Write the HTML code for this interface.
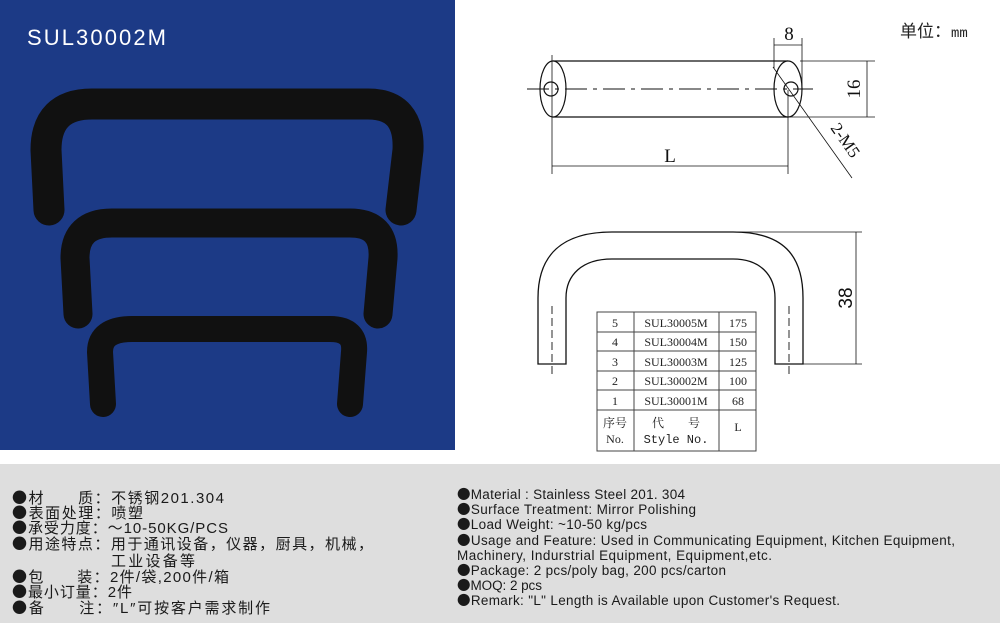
<!DOCTYPE html>
<html><head><meta charset="utf-8"><style>
html,body{margin:0;padding:0;background:#fff;}
svg{display:block}
</style></head><body>
<svg width="1000" height="623" viewBox="0 0 1000 623" xmlns="http://www.w3.org/2000/svg">
<rect x="0" y="0" width="1000" height="623" fill="#fff"/>
<rect x="0" y="0" width="455" height="450" fill="#1c3a86"/>
<rect x="0" y="464" width="1000" height="159" fill="#dedede"/>
<text x="27" y="45" font-family="Liberation Sans, sans-serif" font-size="22" fill="#fff" textLength="139">SUL30002M</text>
<g fill="none" stroke="#111" stroke-linejoin="round" stroke-linecap="round">
<path d="M49 210 L46 150 Q46 104 92 104 L368 104 Q410 104 408 150 L401 210" stroke-width="31"/>
<path d="M78 314 L75 258 Q75 223 112 223 L350 223 Q385 223 383 258 L378 314" stroke-width="29"/>
<path d="M103 404 L100 352 Q100 329 132 329 L330 329 Q356 329 354 352 L350 404" stroke-width="26"/>
</g>
<g fill="none" stroke="#111" stroke-width="1.2">
<line x1="553" y1="61" x2="788" y2="61"/>
<line x1="553" y1="117" x2="788" y2="117"/>
<ellipse cx="553" cy="89" rx="13" ry="28" fill="#fff"/>
<ellipse cx="788" cy="89" rx="14" ry="28" fill="#fff"/>
<circle cx="551" cy="89" r="7"/>
<circle cx="791" cy="89" r="7"/>
<line x1="527" y1="89" x2="813" y2="89" stroke-dasharray="22,6,4,6" stroke-width="1"/>
<line x1="552" y1="55" x2="552" y2="174" stroke-width="0.8"/>
<line x1="788" y1="90" x2="788" y2="174" stroke-width="0.8"/>
<line x1="552" y1="166" x2="788" y2="166" stroke-width="0.8"/>
<line x1="774" y1="38" x2="774" y2="68" stroke-width="0.8"/>
<line x1="802" y1="38" x2="802" y2="90" stroke-width="0.8"/>
<line x1="774" y1="45" x2="802" y2="45" stroke-width="0.8"/>
<line x1="800" y1="61" x2="875" y2="61" stroke-width="0.8"/>
<line x1="790" y1="117" x2="875" y2="117" stroke-width="0.8"/>
<line x1="867" y1="61" x2="867" y2="117" stroke-width="0.8"/>
<line x1="773" y1="67" x2="852" y2="178" stroke-width="0.8"/>
</g>
<g font-family="Liberation Serif, serif" fill="#111">
<text x="789" y="40" font-size="19" text-anchor="middle">8</text>
<text x="670" y="162" font-size="19" text-anchor="middle">L</text>
<text transform="translate(860,89) rotate(-90)" font-size="19" text-anchor="middle">16</text>
<text transform="translate(830,128) rotate(55)" font-size="17">2-M5</text>
</g>
<text x="900" y="37" font-family="Liberation Sans, 'Noto Sans CJK SC', sans-serif" font-size="17" fill="#222">单位：<tspan font-family="Liberation Mono, monospace" font-size="14">mm</tspan></text>
<g fill="none" stroke="#111" stroke-width="1.3">
<path d="M538 364 L538 298 C538 255 562 232 612 232 L733 232 C783 232 803 255 803 298 L803 364 L775 364 L775 298 C775 275 760 259 733 259 L612 259 C582 259 566 275 566 298 L566 364 Z"/>
<line x1="552" y1="306" x2="552" y2="374" stroke-dasharray="8,4" stroke-width="0.9"/>
<line x1="789" y1="306" x2="789" y2="374" stroke-dasharray="8,4" stroke-width="0.9"/>
<line x1="735" y1="232" x2="862" y2="232" stroke-width="0.8"/>
<line x1="803" y1="364" x2="862" y2="364" stroke-width="0.8"/>
<line x1="856" y1="232" x2="856" y2="364" stroke-width="0.8"/>
</g>
<text transform="translate(852,298) rotate(-90)" font-family="Liberation Sans, sans-serif" font-size="19" text-anchor="middle" fill="#111">38</text>
<rect x="597" y="312" width="159" height="139" stroke="#444" stroke-width="1" fill="#fff"/>
<g stroke="#444" stroke-width="1">
<line x1="634" y1="312" x2="634" y2="451"/>
<line x1="719" y1="312" x2="719" y2="451"/>
<line x1="597" y1="332" x2="756" y2="332"/>
<line x1="597" y1="351" x2="756" y2="351"/>
<line x1="597" y1="371" x2="756" y2="371"/>
<line x1="597" y1="390" x2="756" y2="390"/>
<line x1="597" y1="410" x2="756" y2="410"/>
</g>
<g font-family="Liberation Serif, serif" font-size="12" fill="#222" text-anchor="middle">
<text x="615" y="327">5</text><text x="676" y="327">SUL30005M</text><text x="738" y="327">175</text>
<text x="615" y="346">4</text><text x="676" y="346">SUL30004M</text><text x="738" y="346">150</text>
<text x="615" y="366">3</text><text x="676" y="366">SUL30003M</text><text x="738" y="366">125</text>
<text x="615" y="385">2</text><text x="676" y="385">SUL30002M</text><text x="738" y="385">100</text>
<text x="615" y="405">1</text><text x="676" y="405">SUL30001M</text><text x="738" y="405">68</text>
<text x="615" y="427" font-family="Liberation Serif, 'Noto Serif CJK SC', serif">序号</text>
<text x="615" y="443">No.</text>
<text x="676" y="427" font-family="Liberation Serif, 'Noto Serif CJK SC', serif">代　　号</text>
<text x="676" y="443" font-family="Liberation Mono, monospace">Style No.</text>
<text x="738" y="431">L</text>
</g>
<g font-family="Liberation Sans, 'Noto Sans CJK SC', sans-serif" font-size="15" fill="#1a1a1a">
<text x="12" y="503" textLength="212"><tspan font-family="'Noto Sans CJK SC', sans-serif">●</tspan>材　　质：不锈钢201.304</text>
<text x="12" y="518" textLength="131"><tspan font-family="'Noto Sans CJK SC', sans-serif">●</tspan>表面处理：喷塑</text>
<text x="12" y="533" textLength="216"><tspan font-family="'Noto Sans CJK SC', sans-serif">●</tspan>承受力度：～10-50KG/PCS</text>
<text x="12" y="549" textLength="361"><tspan font-family="'Noto Sans CJK SC', sans-serif">●</tspan>用途特点：用于通讯设备，仪器，厨具，机械，</text>
<text x="111" y="566" textLength="84">工业设备等</text>
<text x="12" y="582" textLength="217"><tspan font-family="'Noto Sans CJK SC', sans-serif">●</tspan>包　　装：2件/袋,200件/箱</text>
<text x="12" y="597" textLength="120"><tspan font-family="'Noto Sans CJK SC', sans-serif">●</tspan>最小订量：2件</text>
<text x="12" y="613" textLength="258"><tspan font-family="'Noto Sans CJK SC', sans-serif">●</tspan>备　　注：″L″可按客户需求制作</text>
</g>
<g font-family="Liberation Sans, sans-serif" font-size="13.5" fill="#1a1a1a">
<text x="457" y="499" textLength="228"><tspan font-family="'Noto Sans CJK SC', sans-serif">●</tspan>Material : Stainless Steel 201. 304</text>
<text x="457" y="514" textLength="239"><tspan font-family="'Noto Sans CJK SC', sans-serif">●</tspan>Surface Treatment: Mirror Polishing</text>
<text x="457" y="529" textLength="190"><tspan font-family="'Noto Sans CJK SC', sans-serif">●</tspan>Load Weight: ~10-50 kg/pcs</text>
<text x="457" y="545" textLength="498"><tspan font-family="'Noto Sans CJK SC', sans-serif">●</tspan>Usage and Feature: Used in Communicating Equipment, Kitchen Equipment,</text>
<text x="457" y="560" textLength="315">Machinery, Indurstrial Equipment, Equipment,etc.</text>
<text x="457" y="575" textLength="269"><tspan font-family="'Noto Sans CJK SC', sans-serif">●</tspan>Package: 2 pcs/poly bag, 200 pcs/carton</text>
<text x="457" y="590" textLength="85"><tspan font-family="'Noto Sans CJK SC', sans-serif">●</tspan>MOQ: 2 pcs</text>
<text x="457" y="605" textLength="383"><tspan font-family="'Noto Sans CJK SC', sans-serif">●</tspan>Remark: "L" Length is Available upon Customer's Request.</text>
</g>
</svg>
</body></html>
